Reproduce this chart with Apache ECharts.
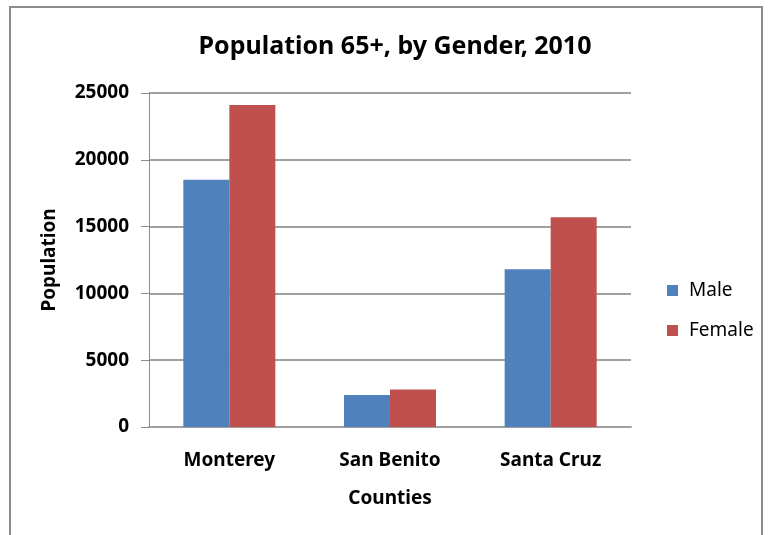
<!DOCTYPE html>
<html><head><meta charset="utf-8">
<script src="https://cdn.jsdelivr.net/npm/echarts@6/dist/echarts.min.js"></script>
<style>html,body{margin:0;padding:0;background:#fff}#c{width:773px;height:535px}</style>
</head><body><div id="c"></div>
<script>
var categories = ['Monterey', 'San Benito', 'Santa Cruz'];
var maleValues = [18500, 2400, 11800];
var femaleValues = [24100, 2800, 15700];
var seriesNames = ['Male', 'Female'];
var yTicks = [0, 5000, 10000, 15000, 20000, 25000];

var FONT = '"Liberation Sans Narrow", "Noto Sans", sans-serif';
var chart = echarts.init(document.getElementById('c'));
chart.setOption({
  animation: false,
  backgroundColor: '#fff',
  title: {
    text: 'Population 65+, by Gender, 2010',
    left: 390, top: 29, textAlign: 'center',
    textStyle: { fontFamily: FONT, fontSize: 25, fontWeight: 'bold', color: '#000' }
  },
  graphic: [{
    type: 'rect', shape: { x: 10, y: 7, width: 752, height: 540 },
    style: { fill: 'none', stroke: '#8c8c8c', lineWidth: 2 }, silent: true
  }],
  legend: {
    orient: 'vertical', left: 662, top: 276, itemGap: 21,
    itemWidth: 11, itemHeight: 11, icon: 'rect',
    textStyle: { fontFamily: FONT, fontSize: 19, color: '#000', padding: [0, 0, 0, 6] },
    data: seriesNames
  },
  grid: { left: 149, top: 93, right: 142, bottom: 108 },
  xAxis: {
    type: 'category', data: categories,
    name: 'Counties', nameLocation: 'middle', nameGap: 62,
    nameTextStyle: { fontFamily: FONT, fontSize: 19, fontWeight: 'bold', color: '#000' },
    axisLine: { lineStyle: { color: '#a0a0a0', width: 2 } },
    axisTick: { show: false },
    axisLabel: { fontFamily: FONT, fontSize: 19, fontWeight: 'bold', color: '#000', margin: 24 }
  },
  yAxis: {
    type: 'value', min: 0, max: 25000, interval: 5000,
    name: 'Population', nameLocation: 'middle', nameGap: 90,
    nameTextStyle: { fontFamily: FONT, fontSize: 19, fontWeight: 'bold', color: '#000' },
    axisLine: { show: true, lineStyle: { color: '#8c8c8c', width: 1 } },
    axisTick: { show: true, inside: false, length: 8, lineStyle: { color: '#8c8c8c' } },
    splitLine: { lineStyle: { color: '#a0a0a0', width: 2 } },
    axisLabel: { fontFamily: FONT, fontSize: 19, fontWeight: 'bold', color: '#000', margin: 20,
      formatter: function (v) { return yTicks.indexOf(v) >= 0 ? String(v) : ''; } }
  },
  series: [
    { name: seriesNames[0], type: 'bar', data: maleValues, barWidth: 46, barGap: '0%',
      itemStyle: { color: '#4F81BD' } },
    { name: seriesNames[1], type: 'bar', data: femaleValues, barWidth: 46, barGap: '0%',
      itemStyle: { color: '#C0504D' } }
  ]
});
</script></body></html>
